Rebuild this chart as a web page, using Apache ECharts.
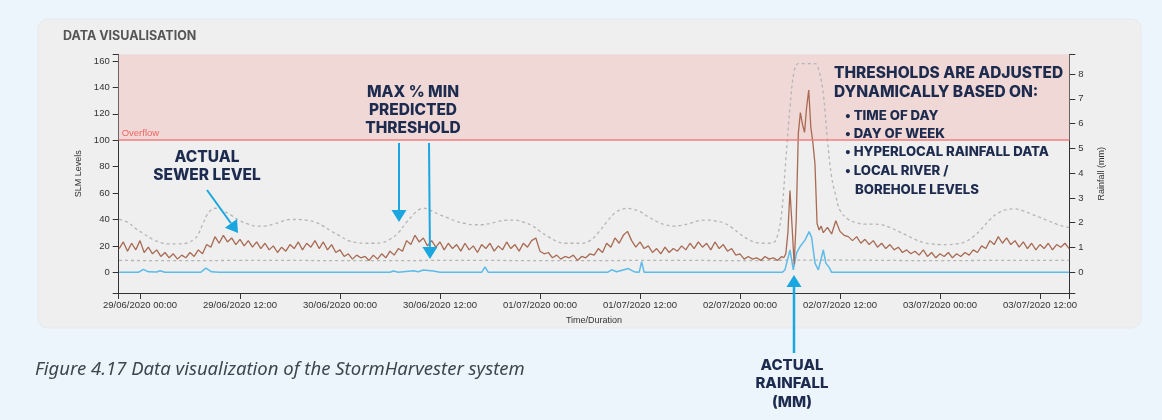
<!DOCTYPE html>
<html>
<head>
<meta charset="utf-8">
<script src="https://cdn.jsdelivr.net/npm/echarts@6/dist/echarts.min.js"></script>
<style>
html,body{margin:0;padding:0;background:#edf5fc;}
#chart{width:1162px;height:420px;}
</style>
</head>
<body>
<div id="chart"></div>
<script>
// Time is counted in hours from 29/06/2020 00:00.
const timeStart = -2.556;
const timeEnd = 111.52;
const timeTicks = [0, 12, 24, 36, 48, 60, 72, 84, 96, 108];
const timeLabels = ['29/06/2020 00:00', '29/06/2020 12:00', '30/06/2020 00:00', '30/06/2020 12:00',
  '01/07/2020 00:00', '01/07/2020 12:00', '02/07/2020 00:00', '02/07/2020 12:00',
  '03/07/2020 00:00', '03/07/2020 12:00'];

const levelMin = -15.67, levelMax = 165.08;
const levelTicks = [0, 20, 40, 60, 80, 100, 120, 140, 160];
const rainMin = -0.835, rainMax = 8.794;
const rainTicks = [0, 1, 2, 3, 4, 5, 6, 7, 8];
const overflowLevel = 100;

// Sewer level (SLM) readings: [hour, level]
const sewerLevel = [
  [-2.5,18],[-2,23],[-1.5,16],[-1,22],[-0.5,17],[0,24],[0.5,15],[1,19],[1.5,14],[2,17],[2.5,12],[3,15],
  [3.5,11],[4,14],[4.5,10],[5,13],[5.5,11],[6,15],[6.5,12],[7,17],[7.5,14],[8,21],[8.5,19],[9,27],
  [9.5,22],[10,28],[10.5,23],[11,26],[11.5,21],[12,25],[12.5,20],[13,24],[13.5,19],[14,23],[14.5,18],[15,22],
  [15.5,17],[16,20],[16.5,15],[17,19],[17.5,16],[18,21],[18.5,18],[19,23],[19.5,17],[20,22],[20.5,19],[21,24],
  [21.5,18],[22,23],[22.5,17],[23,21],[23.5,15],[24,17],[24.5,12],[25,14],[25.5,10],[26,13],[26.5,11],[27,12],
  [27.5,9],[28,13],[28.5,10],[29,14],[29.5,11],[30,16],[30.5,13],[31,18],[31.5,16],[32,24],[32.5,21],[33,28],
  [33.5,23],[34,26],[34.5,20],[35,24],[35.5,19],[36,23],[36.5,17],[37,22],[37.5,18],[38,21],[38.5,16],[39,22],
  [39.5,17],[40,20],[40.5,15],[41,21],[41.5,18],[42,22],[42.5,16],[43,20],[43.5,17],[44,23],[44.5,18],[45,21],
  [45.5,16],[46,22],[46.5,19],[47,24],[47.5,26],[48,16],[48.5,14],[49,15],[49.5,11],[50,13],[50.5,10],[51,12],
  [51.5,11],[52,13],[52.5,9],[53,12],[53.5,11],[54,14],[54.5,13],[55,18],[55.5,15],[56,22],[56.5,19],[57,26],
  [57.5,22],[58,28],[58.5,31],[59,24],[59.5,19],[60,23],[60.5,18],[61,20],[61.5,15],[62,18],[62.5,14],[63,19],
  [63.5,15],[64,18],[64.5,16],[65,20],[65.5,17],[66,22],[66.5,18],[67,23],[67.5,19],[68,22],[68.5,17],[69,23],
  [69.5,18],[70,21],[70.5,16],[71,18],[71.5,13],[72,14],[72.5,10],[73,12],[73.5,10],[74,11],[74.5,9],[75,12],
  [75.5,10],[76,11],[76.5,9],[77,12],[77.25,11],[77.5,14],[77.75,30],[78,62],[78.25,35],[78.5,6],[78.75,40],
  [79,105],[79.25,121],[79.5,112],[79.75,106],[80,125],[80.25,138],[80.5,110],[80.75,98],[81,82],[81.25,37],
  [81.5,32],[81.75,35],[82,30],[82.5,34],[83,29],[83.5,39],[84,31],[84.5,28],[85,27],[85.5,24],[86,27],
  [86.5,22],[87,25],[87.5,21],[88,24],[88.5,19],[89,22],[89.5,18],[90,21],[90.5,17],[91,19],[91.5,15],[92,17],
  [92.5,14],[93,16],[93.5,13],[94,17],[94.5,12],[95,15],[95.5,11],[96,14],[96.5,12],[97,15],[97.5,11],[98,14],
  [98.5,12],[99,15],[99.5,13],[100,17],[100.5,15],[101,20],[101.5,18],[102,24],[102.5,21],[103,27],[103.5,22],
  [104,26],[104.5,21],[105,24],[105.5,19],[106,23],[106.5,18],[107,22],[107.5,17],[108,21],[108.5,18],[109,22],
  [109.5,17],[110,21],[110.5,19],[111,22],[111.5,18]
];

// Upper (max) predicted threshold: [hour, level]
const maxThreshold = [
  [-2.5,40],[-1.5,38],[-0.5,33],[0.5,29],[1.5,25],[2.5,22.5],[3.5,21.5],[4.5,21.5],[5.5,22],[6.5,25],[7,29],
  [7.5,36],[8,43],[8.5,47],[9,48.5],[9.5,48],[10,46.5],[11,43],[12,39],[13,36.5],[14,35],[15,35],[16,36.5],
  [17,38.5],[18,40],[19,40],[20,39.5],[21,38],[22,35],[23,31],[24,27.5],[25,24],[26,22.5],[27,22],[28,22],
  [29,22.5],[30,25],[31,30],[32,38],[33,45],[33.5,47.5],[34,48.5],[34.5,48],[35,46.5],[36,43.5],[37,41],
  [38,38.5],[39,37],[40,36],[41,36],[42,37],[43,38.5],[44,39.5],[45,39.5],[46,38],[47,35.5],[48,31],[49,27],
  [50,23.5],[51,22],[52,22],[53,22],[54,24],[55,30],[56,38],[57,45],[58,48],[58.5,48.5],[59,48],[60,46],
  [61,42],[62,38.5],[63,36],[64,35],[65,35.5],[66,37],[67,39],[68,39.5],[69,39],[70,37.5],[71,34],[72,29],
  [73,25],[74,22.5],[75,22],[76,22.5],[76.5,28],[77,45],[77.5,85],[78,125],[78.5,152],[79,158],[80,158],
  [81,158],[81.5,152],[82,135],[82.5,100],[83,72],[83.5,58],[84,47],[85,40],[86,37.5],[87,36.5],[88,36.5],
  [89,36],[90,34],[91,31],[92,28],[93,25],[94,22.5],[95,21.5],[96,21],[97,21],[98,21.5],[99,23],[100,27],
  [101,33],[102,40],[103,45],[104,47.5],[105,48],[106,46.5],[107,44],[108,41.5],[109,39],[110,36.5],[111,34.5],
  [111.5,34]
];

// Lower (min) predicted threshold: [hour, level]
const minThreshold = [
  [-2.5,9],[6,8.8],[12,9],[18,9],[24,8.8],[30,8.8],[36,9],[42,9],[48,8.8],[54,8.8],[60,9],[66,9],
  [72,8.8],[78,9.2],[84,9.3],[90,9],[96,8.8],[102,9],[108,9],[111.5,9]
];

// Rainfall (mm): [hour, mm]
const rainfall = [
  [-2.5,0],[-0.2,0],[0.4,0.12],[1,0.02],[2,0.01],[2.4,0.06],[3,0],[7.3,0],[7.9,0.17],[8.6,0.02],[9.5,0],
  [30,0],[30.4,0.05],[31,0],[32.8,0.06],[33.4,0.02],[34,0.09],[35.2,0.05],[36,0],[41,0],[41.4,0.22],[41.8,0],
  [56.1,0],[56.6,0.1],[57.2,0.02],[58.6,0.15],[59.4,0.01],[59.9,0],[60.2,0.43],[60.5,0],
  [77.1,0],[77.4,0.1],[77.6,0.37],[78,0.9],[78.4,0.1],[78.8,0.78],[79.2,1.03],[79.8,1.3],[80.3,1.64],
  [80.6,1.4],[81,0.37],[81.4,0.1],[82,0.9],[82.3,0.37],[82.7,0.2],[83,0],[111.5,0]
];

const navy = '#1d2b4f';
const arrowBlue = '#1aa6df';

function arrow(x1, y1, x2, y2, width) {
  const dx = x2 - x1, dy = y2 - y1, len = Math.sqrt(dx * dx + dy * dy);
  const ux = dx / len, uy = dy / len, headL = 12, headW = 7.5;
  const bx = x2 - ux * headL, by = y2 - uy * headL;
  return {
    type: 'group', z: 100,
    children: [
      { type: 'line', z: 100, shape: { x1: x1, y1: y1, x2: bx, y2: by },
        style: { stroke: arrowBlue, lineWidth: width } },
      { type: 'polygon', z: 100,
        shape: { points: [[x2, y2], [bx - uy * headW, by + ux * headW], [bx + uy * headW, by - ux * headW]] },
        style: { fill: arrowBlue } }
    ]
  };
}

function label(text, x, y, size, align) {
  return { type: 'text', z: 100,
    style: { text: text, x: x, y: y, fill: navy, font: '800 ' + size + 'px Inter',
      textAlign: align || 'center', textVerticalAlign: 'middle' } };
}

const chart = echarts.init(document.getElementById('chart'));
chart.setOption({
  backgroundColor: '#edf5fc',
  animation: false,
  title: {
    text: 'DATA VISUALISATION', left: 58, top: 25,
    textStyle: { fontSize: 12.5, fontWeight: 'bold', color: '#555', fontFamily: 'Inter' }
  },
  grid: { left: 118.7, right: 92.7, top: 54.3, bottom: 127 },
  xAxis: {
    type: 'value', min: timeStart, max: timeEnd,
    name: 'Time/Duration', nameLocation: 'middle', nameGap: 23,
    nameTextStyle: { fontSize: 9, color: '#333', fontFamily: 'Liberation Sans' },
    axisLine: { onZero: false, lineStyle: { color: '#333', width: 1 } },
    axisTick: { customValues: [timeStart].concat(timeTicks, [timeEnd]), length: 6, lineStyle: { color: '#333' } },
    axisLabel: {
      customValues: timeTicks, margin: 7, fontSize: 9.5, color: '#333', fontFamily: 'Liberation Sans',
      formatter: function (v) { return timeLabels[timeTicks.indexOf(v)]; }
    },
    splitLine: { show: false }
  },
  yAxis: [{
    type: 'value', min: levelMin, max: levelMax, position: 'left',
    name: 'SLM Levels', nameLocation: 'middle', nameRotate: 90, nameGap: 36,
    nameTextStyle: { fontSize: 9, color: '#333', fontFamily: 'Liberation Sans' },
    axisLine: { show: true, onZero: false, lineStyle: { color: '#333', width: 1 } },
    axisTick: { show: true, customValues: [levelMin].concat(levelTicks, [levelMax]), length: 6, lineStyle: { color: '#333' } },
    axisLabel: { customValues: levelTicks, margin: 9, fontSize: 9.5, color: '#333', fontFamily: 'Liberation Sans' },
    splitLine: { show: false }
  }, {
    type: 'value', min: rainMin, max: rainMax, position: 'right',
    name: 'Rainfall (mm)', nameLocation: 'middle', nameRotate: 90, nameGap: 28,
    nameTextStyle: { fontSize: 9, color: '#333', fontFamily: 'Liberation Sans' },
    axisLine: { show: true, onZero: false, lineStyle: { color: '#333', width: 1 } },
    axisTick: { show: true, customValues: [rainMin].concat(rainTicks, [rainMax]), length: 6, lineStyle: { color: '#333' } },
    axisLabel: { customValues: rainTicks, margin: 9, fontSize: 9.5, color: '#333', fontFamily: 'Liberation Sans' },
    splitLine: { show: false }
  }],
  series: [{
    name: 'Max threshold', type: 'line', data: maxThreshold, symbol: 'none', smooth: 0.4,
    lineStyle: { color: '#b5b5b5', width: 1.3, type: [3, 3] },
    markArea: {
      silent: true,
      itemStyle: { color: '#efd8d5' },
      data: [[{ yAxis: overflowLevel }, { yAxis: levelMax }]]
    },
    markLine: {
      silent: true, symbol: 'none',
      lineStyle: { color: '#f28080', width: 1.5, type: 'solid' },
      label: { position: 'insideStartTop', formatter: 'Overflow', color: '#f06464', fontSize: 9.5,
        fontFamily: 'Liberation Sans', distance: [3, 2] },
      data: [{ yAxis: overflowLevel }]
    }
  }, {
    name: 'Min threshold', type: 'line', data: minThreshold, symbol: 'none', smooth: 0.4,
    lineStyle: { color: '#b5b5b5', width: 1.3, type: [3, 3] }
  }, {
    name: 'Rainfall', type: 'line', yAxisIndex: 1, data: rainfall, symbol: 'none',
    lineStyle: { color: '#5cbbe8', width: 1.5 }
  }, {
    name: 'Sewer level', type: 'line', data: sewerLevel, symbol: 'none',
    lineStyle: { color: '#a86a53', width: 1.3 }
  }],
  graphic: [
    { type: 'rect', z: -10, shape: { x: 38, y: 19, width: 1103, height: 309, r: 10 },
      style: { fill: '#efefef', stroke: '#e6e9ec', lineWidth: 1 } },
    label('ACTUAL', 207, 157, 15.5),
    label('SEWER LEVEL', 207, 175, 15.5),
    arrow(207, 190, 238, 233, 2),
    label('MAX % MIN', 413, 92, 15.5),
    label('PREDICTED', 413, 110, 15.5),
    label('THRESHOLD', 413, 128, 15.5),
    arrow(399, 143, 399, 222, 2),
    arrow(429, 143, 430, 259, 2),
    label('THRESHOLDS ARE ADJUSTED', 834, 73, 15.5, 'left'),
    label('DYNAMICALLY BASED ON:', 834, 92, 15.5, 'left'),
    label('\u2022 TIME OF DAY', 845, 116, 13.2, 'left'),
    label('\u2022 DAY OF WEEK', 845, 134, 13.2, 'left'),
    label('\u2022 HYPERLOCAL RAINFALL DATA', 845, 152, 13.2, 'left'),
    label('\u2022 LOCAL RIVER /', 845, 171, 13.2, 'left'),
    label('BOREHOLE LEVELS', 855, 190, 13.2, 'left'),
    arrow(794, 353, 794, 275, 2.5),
    label('ACTUAL', 792, 365, 15),
    label('RAINFALL', 792, 383, 15),
    label('(MM)', 792, 402, 15),
    { type: 'text', z: 100,
      style: { text: 'Figure 4.17 Data visualization of the StormHarvester system', x: 35, y: 370,
        fill: '#3c4650', font: 'italic 18.5px "Noto Sans"', textAlign: 'left', textVerticalAlign: 'middle' } }
  ]
});
</script>
</body>
</html>
